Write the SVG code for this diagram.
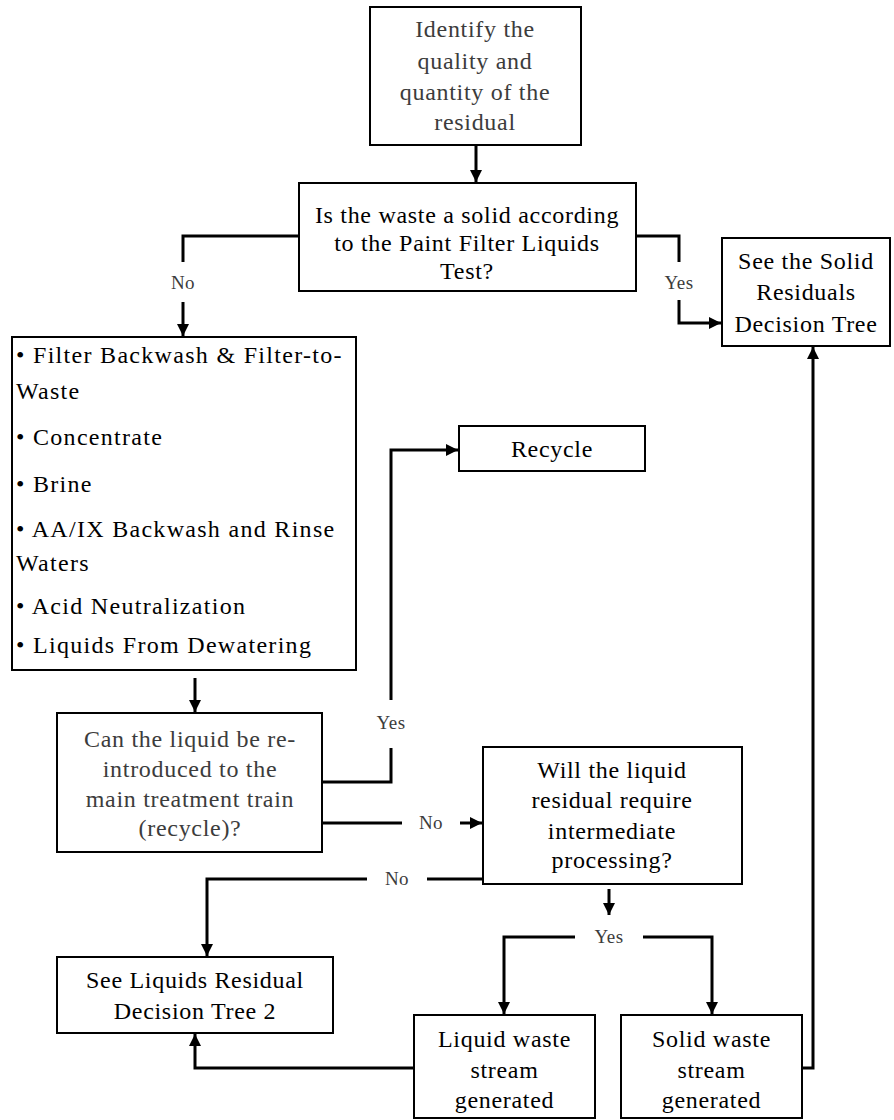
<svg xmlns="http://www.w3.org/2000/svg" width="894" height="1120" viewBox="0 0 894 1120">
<style>
.box{fill:#fff;stroke:#000;stroke-width:2}
.t{font-family:'Liberation Serif','Times New Roman','DejaVu Serif',serif;font-size:24px;letter-spacing:0.7px;fill:#000;text-anchor:middle}
.g{fill:#3c3c3c}
.l{font-family:'Liberation Serif','Times New Roman','DejaVu Serif',serif;font-size:24px;letter-spacing:1.3px;fill:#000}
.lbl{font-family:'Liberation Serif','Times New Roman','DejaVu Serif',serif;font-size:19px;letter-spacing:0.5px;fill:#3c3c3c;text-anchor:middle}
.c{fill:none;stroke:#000;stroke-width:3}
</style>
<defs>
<marker id="ah" viewBox="0 0 12 12" refX="12" refY="6" markerWidth="12" markerHeight="12" markerUnits="userSpaceOnUse" orient="auto"><path d="M0,0 L12,6 L0,12 z" fill="#000"/></marker>
</defs>
<rect width="894" height="1120" fill="#fff"/>
<g id="connectors">
<polyline class="c" points="476,146 476,182" marker-end="url(#ah)"/>
<polyline class="c" points="299,236 183,236 183,262"/>
<polyline class="c" points="183,302 183,336" marker-end="url(#ah)"/>
<polyline class="c" points="636,236 679,236 679,262"/>
<polyline class="c" points="679,300 679,323 721,323" marker-end="url(#ah)"/>
<polyline class="c" points="195,678 195,712" marker-end="url(#ah)"/>
<polyline class="c" points="322,782 391,782 391,748"/>
<polyline class="c" points="391,700 391,450 458,450" marker-end="url(#ah)"/>
<polyline class="c" points="322,823 402,823"/>
<polyline class="c" points="460,823 482,823" marker-end="url(#ah)"/>
<polyline class="c" points="483,879 427,879"/>
<polyline class="c" points="367,879 207,879 207,956" marker-end="url(#ah)"/>
<polyline class="c" points="609,889 609,915" marker-end="url(#ah)"/>
<polyline class="c" points="575,937 504,937 504,1014" marker-end="url(#ah)"/>
<polyline class="c" points="643,937 712,937 712,1014" marker-end="url(#ah)"/>
<polyline class="c" points="414,1068 195,1068 195,1034" marker-end="url(#ah)"/>
<polyline class="c" points="802,1068 813,1068 813,347" marker-end="url(#ah)"/>
<text class="lbl" x="183" y="289">No</text>
<text class="lbl" x="679" y="289">Yes</text>
<text class="lbl" x="391" y="729">Yes</text>
<text class="lbl" x="431" y="829">No</text>
<text class="lbl" x="397" y="885">No</text>
<text class="lbl" x="609" y="943">Yes</text>
</g>
<g id="identify">
<rect class="box" x="370" y="7" width="211" height="138"/>
<text class="t g" x="475" y="37">Identify the</text>
<text class="t g" x="475" y="69">quality and</text>
<text class="t g" x="475" y="100">quantity of the</text>
<text class="t g" x="475" y="130">residual</text>
</g>
<g id="paint-filter">
<rect class="box" x="299" y="183" width="337" height="108"/>
<text class="t" x="467" y="223">Is the waste a solid according</text>
<text class="t" x="467" y="251">to the Paint Filter Liquids</text>
<text class="t" x="467" y="279">Test?</text>
</g>
<g id="solid-residuals">
<rect class="box" x="722" y="238" width="168" height="108"/>
<text class="t" x="806" y="269">See the Solid</text>
<text class="t" x="806" y="300">Residuals</text>
<text class="t" x="806" y="332">Decision Tree</text>
</g>
<g id="liquid-list">
<rect class="box" x="12" y="337" width="344" height="333"/>
<text class="l" x="16" y="363">• Filter Backwash &amp; Filter-to-</text>
<text class="l" x="16" y="399">Waste</text>
<text class="l" x="16" y="445">• Concentrate</text>
<text class="l" x="16" y="492">• Brine</text>
<text class="l" x="16" y="537">• AA/IX Backwash and Rinse</text>
<text class="l" x="16" y="571">Waters</text>
<text class="l" x="16" y="614">• Acid Neutralization</text>
<text class="l" x="16" y="653">• Liquids From Dewatering</text>
</g>
<g id="recycle">
<rect class="box" x="459" y="426" width="186" height="45"/>
<text class="t" x="552" y="457">Recycle</text>
</g>
<g id="reintroduce">
<rect class="box" x="57" y="713" width="265" height="139"/>
<text class="t g" x="190" y="747">Can the liquid be re-</text>
<text class="t g" x="190" y="777">introduced to the</text>
<text class="t g" x="190" y="807">main treatment train</text>
<text class="t g" x="190" y="836">(recycle)?</text>
</g>
<g id="intermediate">
<rect class="box" x="483" y="747" width="259" height="137"/>
<text class="t" x="612" y="778">Will the liquid</text>
<text class="t" x="612" y="808">residual require</text>
<text class="t" x="612" y="839">intermediate</text>
<text class="t" x="612" y="868">processing?</text>
</g>
<g id="liquids-tree-2">
<rect class="box" x="57" y="957" width="276" height="76"/>
<text class="t" x="195" y="988">See Liquids Residual</text>
<text class="t" x="195" y="1019">Decision Tree 2</text>
</g>
<g id="liquid-waste">
<rect class="box" x="414" y="1015" width="181" height="103"/>
<text class="t" x="504.5" y="1047">Liquid waste</text>
<text class="t" x="504.5" y="1078">stream</text>
<text class="t" x="504.5" y="1108">generated</text>
</g>
<g id="solid-waste">
<rect class="box" x="621" y="1015" width="181" height="103"/>
<text class="t" x="711.5" y="1047">Solid waste</text>
<text class="t" x="711.5" y="1078">stream</text>
<text class="t" x="711.5" y="1108">generated</text>
</g>
</svg>
